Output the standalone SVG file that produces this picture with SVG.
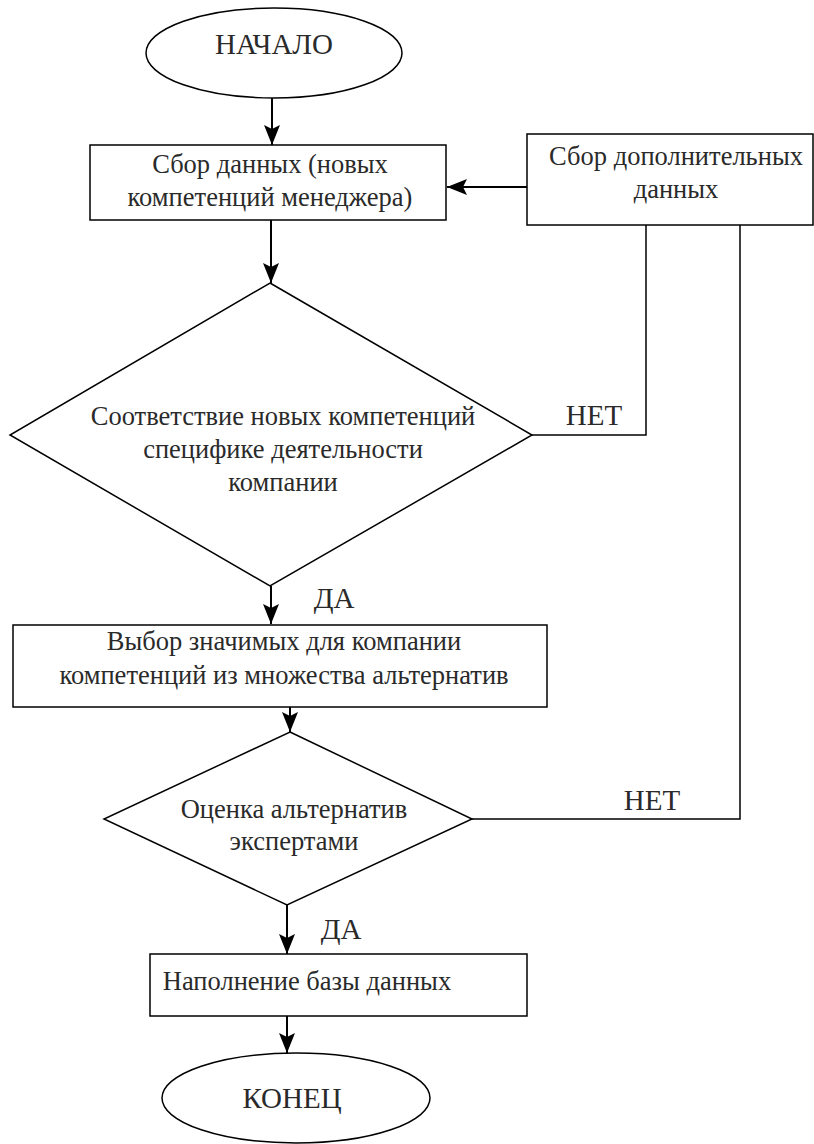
<svg xmlns="http://www.w3.org/2000/svg" width="814" height="1144" viewBox="0 0 814 1144">
<style>
.s{fill:#fff;stroke:#000;stroke-width:1.5}
.c{fill:none;stroke:#000;stroke-width:1.5}
.a{stroke-width:2;marker-end:url(#ah)}
text{font-family:"Liberation Serif","Times New Roman",serif;font-size:26.5px;fill:#2a2a2a;text-anchor:middle}
.b{font-size:29px}
</style>
<defs>
<marker id="ah" markerUnits="userSpaceOnUse" markerWidth="22" markerHeight="18" refX="20" refY="8" orient="auto" viewBox="0 0 22 16">
<path d="M20,8 L0,0 L4,8 L0,16 Z" fill="#000"/>
</marker>
</defs>
<rect width="814" height="1144" fill="#fff"/>
<g id="connectors">
<path class="c a" d="M272,98 V145"/>
<path class="c a" d="M527,187 H447"/>
<path class="c a" d="M271,220 V283"/>
<path class="c" d="M532,435 H646 V225"/>
<path class="c a" d="M271,586 V624"/>
<path class="c a" d="M290,707 V732"/>
<path class="c" d="M472,819 H740 V225"/>
<path class="c a" d="M287,905 V954"/>
<path class="c a" d="M287,1016 V1053"/>
<text class="b" x="594" y="425">НЕТ</text>
<text class="b" x="652" y="810">НЕТ</text>
<text class="b" x="334" y="608">ДА</text>
<text class="b" x="341" y="939">ДА</text>
</g>
<g id="start">
<ellipse class="s" cx="274" cy="53" rx="128" ry="45"/>
<text class="b" x="274" y="54">НАЧАЛО</text>
</g>
<g id="collect">
<rect class="s" x="90" y="145" width="356" height="75"/>
<text x="270" y="173">Сбор данных (новых</text>
<text x="270" y="206">компетенций менеджера)</text>
</g>
<g id="extra">
<rect class="s" x="527" y="134" width="286" height="91"/>
<text x="676" y="165">Сбор дополнительных</text>
<text x="676" y="198">данных</text>
</g>
<g id="match">
<polygon class="s" points="270,283 532,435 270,586 10,435"/>
<text x="283" y="425">Соответствие новых компетенций</text>
<text x="283" y="458">специфике деятельности</text>
<text x="283" y="491">компании</text>
</g>
<g id="select">
<rect class="s" x="13" y="625" width="534" height="82"/>
<text x="284" y="650">Выбор значимых для компании</text>
<text x="284" y="684">компетенций из множества альтернатив</text>
</g>
<g id="evaluate">
<polygon class="s" points="290,732 472,819 287,905 104,819"/>
<text x="294" y="818">Оценка альтернатив</text>
<text x="294" y="850">экспертами</text>
</g>
<g id="fill">
<rect class="s" x="150" y="954" width="377" height="62"/>
<text x="307" y="990">Наполнение базы данных</text>
</g>
<g id="end">
<ellipse class="s" cx="296" cy="1098" rx="134" ry="45"/>
<text class="b" x="292" y="1108">КОНЕЦ</text>
</g>
</svg>
